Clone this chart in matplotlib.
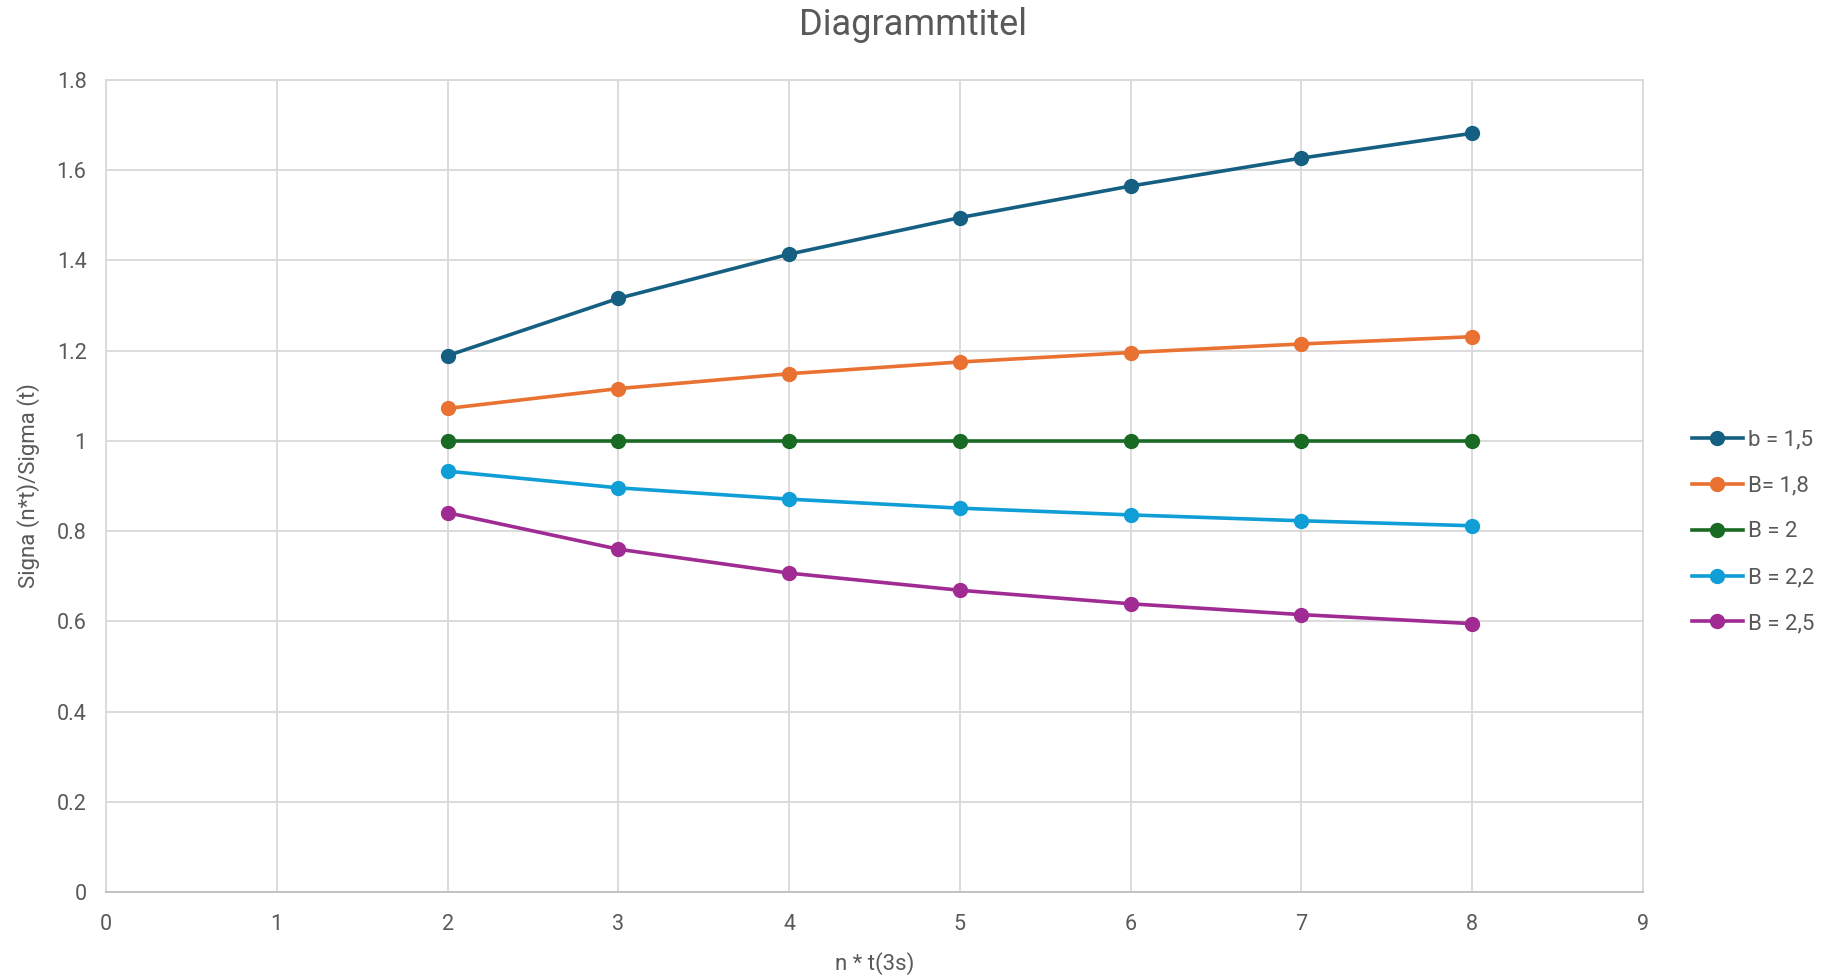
import matplotlib
matplotlib.use("Agg")
import matplotlib.pyplot as plt

x = [2, 3, 4, 5, 6, 7, 8]
labels = ["b = 1,5", "B= 1,8", "B = 2", "B = 2,2", "B = 2,5"]
s15 = [1.189, 1.316, 1.414, 1.495, 1.565, 1.627, 1.682]
s18 = [1.072, 1.116, 1.149, 1.175, 1.196, 1.215, 1.231]
s20 = [1.0, 1.0, 1.0, 1.0, 1.0, 1.0, 1.0]
s22 = [0.933, 0.896, 0.871, 0.851, 0.836, 0.823, 0.812]
s25 = [0.841, 0.760, 0.707, 0.669, 0.639, 0.615, 0.595]
series = [s15, s18, s20, s22, s25]
colors = ["#156082", "#E97132", "#196B24", "#0F9ED5", "#A02B93"]
xticks = list(range(0, 10))
yticks = [0, 0.2, 0.4, 0.6, 0.8, 1.0, 1.2, 1.4, 1.6, 1.8]
ytick_labels = ["0", "0.2", "0.4", "0.6", "0.8", "1", "1.2", "1.4", "1.6", "1.8"]

plt.rcParams['font.family'] = ['Roboto', 'DejaVu Sans']
txt = "#595959"

fig = plt.figure(figsize=(18.27, 9.76), dpi=100)
ax = fig.add_axes([0.058, 0.086, 0.8413, 0.832])

for ys, lab, c in zip(series, labels, colors):
    ax.plot(x, ys, color=c, lw=2.6, marker='o', ms=10, label=lab, zorder=3)

ax.set_xlim(0, 9)
ax.set_ylim(0, 1.8)
ax.set_xticks(xticks)
ax.set_yticks(yticks)
ax.set_yticklabels(ytick_labels)
ax.grid(True, color="#D9D9D9", lw=1.3, zorder=0)
ax.set_axisbelow(True)
for sp in ax.spines.values():
    sp.set_color("#D9D9D9")
    sp.set_linewidth(1.3)
ax.spines['bottom'].set_color("#BFBFBF")
ax.tick_params(length=0, labelsize=15.5, colors=txt, pad=14)
ax.tick_params(axis='x', pad=16)

ax.set_xlabel("n * t(3s)", fontsize=16, color=txt, labelpad=12)
ax.set_ylabel("Signa (n*t)/Sigma (t)", fontsize=16, color=txt, labelpad=12)
fig.suptitle("Diagrammtitel", fontsize=26, color=txt, y=0.993)

leg = ax.legend(loc='center left', bbox_to_anchor=(0.915, 0.455), bbox_transform=fig.transFigure,
                frameon=False, fontsize=16, labelcolor=txt, handlelength=2.3,
                labelspacing=1.12, handletextpad=0.25)

fig.savefig("out.png", dpi=100)
